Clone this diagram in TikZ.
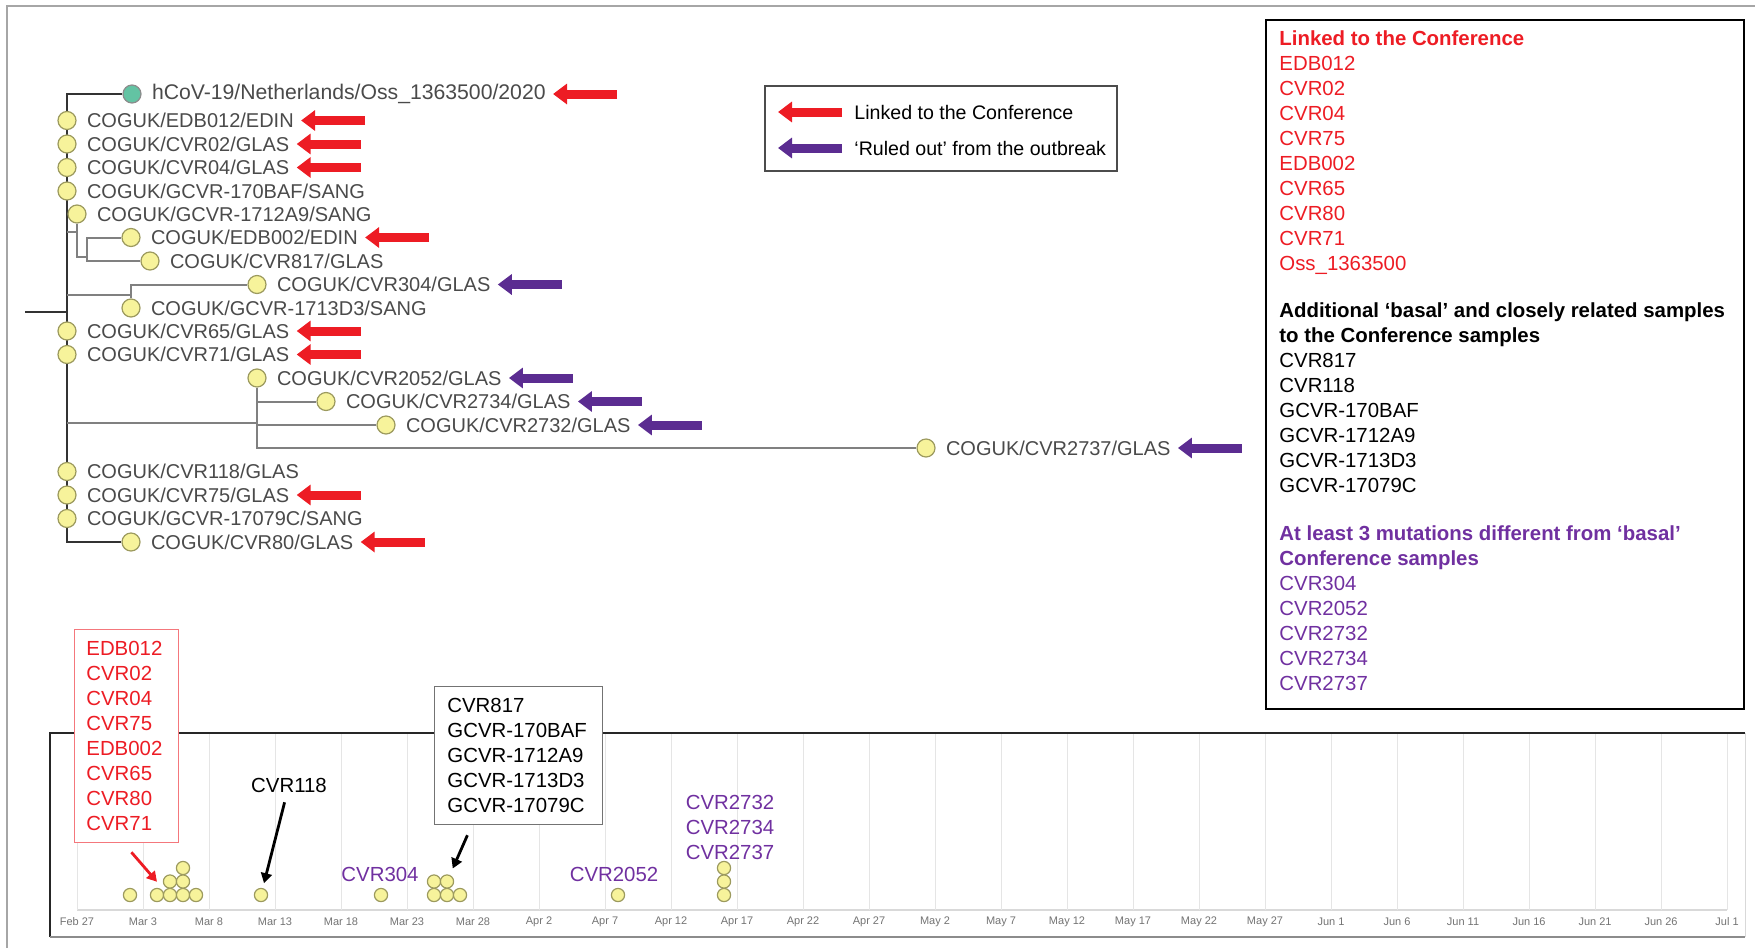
\documentclass[tikz,border=0pt]{standalone}
\usepackage{fontspec}
\setmainfont{Liberation Sans}
\usepackage{tikz}
\usetikzlibrary{arrows.meta,positioning,backgrounds}

\definecolor{confred}{HTML}{ED1C24}
\definecolor{outpurple}{HTML}{5B2C91}
\definecolor{txtpurple}{HTML}{7030A0}
\definecolor{tipfill}{HTML}{F7F39B}
\definecolor{tipline}{HTML}{9C9A5E}
\definecolor{ossfill}{HTML}{63C3A3}
\definecolor{treegray}{HTML}{4A4A4A}

\begin{document}
\begin{tikzpicture}[
  x=0.5pt, y=-0.5pt,
  tip/.style={circle, draw=tipline, fill=tipfill, line width=0.6pt, minimum size=9pt, inner sep=0pt},
  dot/.style={tip, minimum size=6.6pt},
  lbl/.style={font=\fontsize{10}{12}\selectfont, text=treegray, inner sep=1.5pt},
  stem/.style={draw=black!80, line width=1pt},
  br/.style={draw=black!50, line width=1pt},
  linked/.style={draw=confred, line width=4.5pt, -{Triangle[length=7pt,width=10pt]}},
  ruled/.style={linked, draw=outpurple},
  legtxt/.style={font=\fontsize{9.8}{12}\selectfont, inner sep=1.5pt},
  keytxt/.style={font=\fontsize{10.2}{12.5}\selectfont, align=left, inner sep=0pt},
  gridln/.style={draw=black!10, line width=0.5pt},
  tick/.style={font=\fontsize{5.5}{6}\selectfont, text=black!55, inner sep=0pt},
  ptr/.style={-{Triangle[length=5pt,width=5.5pt]}, line width=1.4pt}
]
\useasboundingbox (0,0) rectangle (1755,948);
\draw[black!35, line width=1pt] (7,948) -- (7,6) -- (1755,6);

% tree
\node[tip, fill=ossfill, draw=black!45] (oss) at (132,94) {};
\node[tip] (edb012) at (67,120.5) {};
\node[tip] (cvr02) at (67,144) {};
\node[tip] (cvr04) at (67,167.5) {};
\node[tip] (g170baf) at (67,191) {};
\node[tip] (g1712a9) at (77,214) {};
\node[tip] (edb002) at (131,237.5) {};
\node[tip] (cvr817) at (150,261) {};
\node[tip] (cvr304) at (257,284.5) {};
\node[tip] (g1713d3) at (131,308) {};
\node[tip] (cvr65) at (67,331) {};
\node[tip] (cvr71) at (67,354.5) {};
\node[tip] (cvr2052) at (257,378) {};
\node[tip] (cvr2734) at (326,401.5) {};
\node[tip] (cvr2732) at (386,425) {};
\node[tip] (cvr2737) at (926,448) {};
\node[tip] (cvr118) at (67,471.5) {};
\node[tip] (cvr75) at (67,495) {};
\node[tip] (g17079c) at (67,518.5) {};
\node[tip] (cvr80) at (131,542) {};

\node[lbl, font=\fontsize{10.6}{12}\selectfont, right=3.5pt of oss] (toss) {hCoV-19/Netherlands/Oss\_1363500/2020};
\node[lbl, right=3.5pt of edb012] (tedb012) {COGUK/EDB012/EDIN};
\node[lbl, right=3.5pt of cvr02] (tcvr02) {COGUK/CVR02/GLAS};
\node[lbl, right=3.5pt of cvr04] (tcvr04) {COGUK/CVR04/GLAS};
\node[lbl, right=3.5pt of g170baf] (tg170baf) {COGUK/GCVR-170BAF/SANG};
\node[lbl, right=3.5pt of g1712a9] (tg1712a9) {COGUK/GCVR-1712A9/SANG};
\node[lbl, right=3.5pt of edb002] (tedb002) {COGUK/EDB002/EDIN};
\node[lbl, right=3.5pt of cvr817] (tcvr817) {COGUK/CVR817/GLAS};
\node[lbl, right=3.5pt of cvr304] (tcvr304) {COGUK/CVR304/GLAS};
\node[lbl, right=3.5pt of g1713d3] (tg1713d3) {COGUK/GCVR-1713D3/SANG};
\node[lbl, right=3.5pt of cvr65] (tcvr65) {COGUK/CVR65/GLAS};
\node[lbl, right=3.5pt of cvr71] (tcvr71) {COGUK/CVR71/GLAS};
\node[lbl, right=3.5pt of cvr2052] (tcvr2052) {COGUK/CVR2052/GLAS};
\node[lbl, right=3.5pt of cvr2734] (tcvr2734) {COGUK/CVR2734/GLAS};
\node[lbl, right=3.5pt of cvr2732] (tcvr2732) {COGUK/CVR2732/GLAS};
\node[lbl, right=3.5pt of cvr2737] (tcvr2737) {COGUK/CVR2737/GLAS};
\node[lbl, right=3.5pt of cvr118] (tcvr118) {COGUK/CVR118/GLAS};
\node[lbl, right=3.5pt of cvr75] (tcvr75) {COGUK/CVR75/GLAS};
\node[lbl, right=3.5pt of g17079c] (tg17079c) {COGUK/GCVR-17079C/SANG};
\node[lbl, right=3.5pt of cvr80] (tcvr80) {COGUK/CVR80/GLAS};

\coordinate (root) at (25,312);
\coordinate (rt) at (67,312);
\coordinate (ja) at (67,232);
\coordinate (na) at (77,232);
\coordinate (nb) at (87,257);
\coordinate (jb) at (67,295);
\coordinate (jc) at (67,423);
\coordinate (nc) at (257,423);

\begin{scope}[on background layer]
\draw[stem] (root) -- (rt);
\draw[stem] (oss) -| (rt) |- (cvr80);
\draw[br] (ja) -- (na);
\draw[br] (g1712a9) |- (nb);
\draw[br] (edb002) -| (nb);
\draw[br] (cvr817) -| (nb);
\draw[br] (jb) -| (g1713d3);
\draw[br] (cvr304) -| (g1713d3);
\draw[br] (jc) -- (nc);
\draw[br] (cvr2052) |- (cvr2737);
\draw[br] (cvr2734) -| (nc);
\draw[br] (cvr2732) -| (nc);
\end{scope}

\draw[linked] ([xshift=34pt]toss.east) -- ([xshift=2pt]toss.east);
\draw[linked] ([xshift=34pt]tedb012.east) -- ([xshift=2pt]tedb012.east);
\draw[linked] ([xshift=34pt]tcvr02.east) -- ([xshift=2pt]tcvr02.east);
\draw[linked] ([xshift=34pt]tcvr04.east) -- ([xshift=2pt]tcvr04.east);
\draw[linked] ([xshift=34pt]tedb002.east) -- ([xshift=2pt]tedb002.east);
\draw[ruled] ([xshift=34pt]tcvr304.east) -- ([xshift=2pt]tcvr304.east);
\draw[linked] ([xshift=34pt]tcvr65.east) -- ([xshift=2pt]tcvr65.east);
\draw[linked] ([xshift=34pt]tcvr71.east) -- ([xshift=2pt]tcvr71.east);
\draw[ruled] ([xshift=34pt]tcvr2052.east) -- ([xshift=2pt]tcvr2052.east);
\draw[ruled] ([xshift=34pt]tcvr2734.east) -- ([xshift=2pt]tcvr2734.east);
\draw[ruled] ([xshift=34pt]tcvr2732.east) -- ([xshift=2pt]tcvr2732.east);
\draw[ruled] ([xshift=34pt]tcvr2737.east) -- ([xshift=2pt]tcvr2737.east);
\draw[linked] ([xshift=34pt]tcvr75.east) -- ([xshift=2pt]tcvr75.east);
\draw[linked] ([xshift=34pt]tcvr80.east) -- ([xshift=2pt]tcvr80.east);

% legend
\node[draw=black!70, line width=0.6pt, minimum width=176pt, minimum height=42.5pt] (legend) at (941,128.5) {};
\node[legtxt, anchor=west] (legconf) at (851,112) {Linked to the Conference};
\node[legtxt, anchor=west] (legout) at (851,148) {‘Ruled out’ from the outbreak};
\draw[linked] ([xshift=-4.5pt]legconf.west) -- ([xshift=-36.5pt]legconf.west);
\draw[ruled] ([xshift=-4.5pt]legout.west) -- ([xshift=-36.5pt]legout.west);

% key box
\node[draw, line width=1pt, minimum width=239pt, minimum height=344.5pt] (keybox) at (1505,364.5) {};
\node[keytxt, text=confred, anchor=north west] (keyconf) at (1279,30) {\textbf{Linked to the Conference}\\EDB012\\CVR02\\CVR04\\CVR75\\EDB002\\CVR65\\CVR80\\CVR71\\Oss\_1363500};
\node[keytxt, anchor=north west] (keybasal) at (1279,302) {\textbf{Additional ‘basal’ and closely related samples}\\\textbf{to the Conference samples}\\CVR817\\CVR118\\GCVR-170BAF\\GCVR-1712A9\\GCVR-1713D3\\GCVR-17079C};
\node[keytxt, text=txtpurple, anchor=north west] (keymut) at (1279,525) {\textbf{At least 3 mutations different from ‘basal’}\\\textbf{Conference samples}\\CVR304\\CVR2052\\CVR2732\\CVR2734\\CVR2737};

% timeline
\draw[black!85, line width=0.8pt] (50,937) -- (50,733) -- (1745,733);
\draw[black!15, line width=0.5pt] (1745,733) -- (1745,937);
\draw[black!45, line width=1pt] (50,937) -- (1745,937);
\draw[black!15, line width=0.6pt] (77,910) -- (1727,910);
\foreach \day [count=\i from 0] in {Feb 27,Mar 3,Mar 8,Mar 13,Mar 18,Mar 23,Mar 28,Apr 2,Apr 7,Apr 12,Apr 17,Apr 22,Apr 27,May 2,May 7,May 12,May 17,May 22,May 27,Jun 1,Jun 6,Jun 11,Jun 16,Jun 21,Jun 26,Jul 1} {
  \draw[gridln] ({77+66*\i},734) -- ({77+66*\i},910);
  \node[tick] at ({77+66*\i},922) {\day};
}

\node[dot] (e1) at (130,895) {};
\node[dot] (e2) at (157,895) {};
\node[dot] (e3) at (170,895) {};
\node[dot] (e4) at (183,895) {};
\node[dot] (e5) at (196,895) {};
\node[dot] (e6) at (170,881.5) {};
\node[dot] (e7) at (183,881.5) {};
\node[dot] (e8) at (183,868) {};
\node[dot] (c118) at (261,895) {};
\node[dot] (c304) at (381,895) {};
\node[dot] (g1) at (434,895) {};
\node[dot] (g2) at (447,895) {};
\node[dot] (g3) at (460,895) {};
\node[dot] (g4) at (434,881.5) {};
\node[dot] (g5) at (447,881.5) {};
\node[dot] (c2052) at (618,895) {};
\node[dot] (x1) at (724,895) {};
\node[dot] (x2) at (724,881.5) {};
\node[dot] (x3) at (724,868) {};

\node[keytxt, draw=confred!60, fill=white, text=confred, text width=40pt, inner xsep=6pt, inner ysep=6pt, anchor=north west] (linkbox) at (74,629) {EDB012\\CVR02\\CVR04\\CVR75\\EDB002\\CVR65\\CVR80\\CVR71};
\node[keytxt, draw=black!55, fill=white, text width=71pt, inner xsep=6.5pt, inner ysep=6pt, anchor=north west] (basalbox) at (434,686) {CVR817\\GCVR-170BAF\\GCVR-1712A9\\GCVR-1713D3\\GCVR-17079C};
\node[keytxt] (t118) at (289,785) {CVR118};
\node[keytxt, text=txtpurple] (t304) at (380,874) {CVR304};
\node[keytxt, text=txtpurple] (t2052) at (614,874) {CVR2052};
\node[keytxt, text=txtpurple, align=center] (t273x) at (730,827) {CVR2732\\CVR2734\\CVR2737};

\draw[ptr, confred] ([shift={(2.5pt,-4.5pt)}]linkbox.south) -- ([yshift=3pt]e2.north);
\draw[ptr, shorten <=5pt, shorten >=2.5pt] (t118) -- (c118);
\draw[ptr, shorten >=3.5pt] ([shift={(-25.5pt,-5pt)}]basalbox.south) -- (g5);
\end{tikzpicture}
\end{document}
